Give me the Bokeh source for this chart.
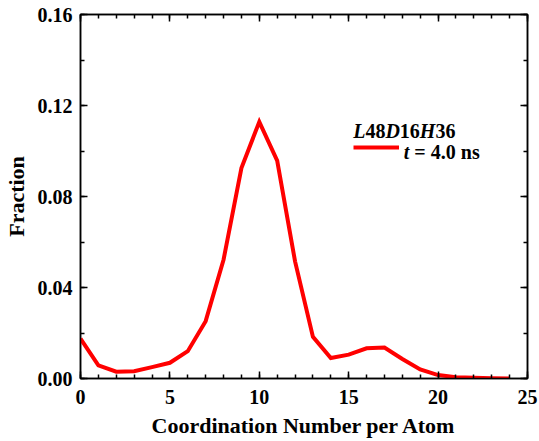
from bokeh.plotting import figure
from bokeh.models import (Range1d, LinearAxis, SingleIntervalTicker, PrintfTickFormatter,
                          Label, Legend, LegendItem, CustomLabelingPolicy)
from bokeh.embed import file_html
from bokeh.resources import INLINE

# ---- data ----
coord_number = list(range(0, 25))
fraction = [0.0175, 0.0058, 0.0030, 0.0032, 0.0050, 0.0069, 0.0120, 0.0252, 0.0522,
            0.0925, 0.1128, 0.0958, 0.0515, 0.0183, 0.0090, 0.0105, 0.0133, 0.0136,
            0.0086, 0.0040, 0.0015, 0.0006, 0.0003, 0.0001, 0.0000]
x_ticks = [0, 5, 10, 15, 20, 25]
y_ticks = [0.00, 0.04, 0.08, 0.12, 0.16]
series_label = "t = 4.0 ns"
legend_title_parts = [("L", "bold italic"), ("48", "bold"), ("D", "bold italic"),
                      ("16", "bold"), ("H", "bold italic"), ("36", "bold")]

FONT = "Liberation Serif"

p = figure(width=539, height=441, output_backend="svg", toolbar_location=None,
           x_range=Range1d(x_ticks[0], x_ticks[-1]), y_range=Range1d(y_ticks[0], y_ticks[-1]),
           min_border_left=80, min_border_right=12, min_border_top=14, min_border_bottom=63,
           x_axis_location=None, y_axis_location=None)
p.xgrid.visible = False
p.ygrid.visible = False
p.outline_line_color = "black"
p.outline_line_width = 1.5
p.background_fill_color = "white"
p.border_fill_color = "white"

hide_all = CustomLabelingPolicy(code="""
    const ids = Array.from(indices)
    for (const i of ids) indices.unset(i)
    return indices
""")


def style_axis(ax, show_labels):
    ax.axis_line_color = "black"
    ax.axis_line_width = 1.5
    ax.major_tick_line_width = 1.5
    ax.minor_tick_line_width = 1.5
    ax.major_tick_in = 7
    ax.major_tick_out = 0
    ax.minor_tick_in = 4
    ax.minor_tick_out = 0
    ax.major_label_text_font = FONT
    ax.major_label_text_font_style = "bold"
    ax.major_label_text_color = "black"
    ax.major_label_text_font_size = "20px"
    ax.major_label_text_line_height = 1.0
    ax.axis_label_text_font = FONT
    ax.axis_label_text_font_style = "bold"
    ax.axis_label_text_font_size = "22px"
    ax.axis_label_text_line_height = 1.0
    ax.axis_label_text_color = "black"
    if not show_labels:
        ax.major_label_policy = hide_all
        ax.major_label_text_font_size = "0px"
        ax.major_label_standoff = 0
        ax.axis_label_standoff = 0


xb = LinearAxis(ticker=SingleIntervalTicker(interval=5, num_minor_ticks=5),
                axis_label="Coordination Number per Atom")
style_axis(xb, True)
xb.major_label_standoff = 11
xb.axis_label_standoff = 6
p.add_layout(xb, "below")

xa = LinearAxis(ticker=SingleIntervalTicker(interval=5, num_minor_ticks=5))
style_axis(xa, False)
p.add_layout(xa, "above")

yl = LinearAxis(ticker=SingleIntervalTicker(interval=0.04, num_minor_ticks=2),
                axis_label="Fraction", formatter=PrintfTickFormatter(format="%.2f"))
style_axis(yl, True)
yl.major_label_standoff = 8
yl.axis_label_standoff = 6
p.add_layout(yl, "left")

yr = LinearAxis(ticker=SingleIntervalTicker(interval=0.04, num_minor_ticks=2))
style_axis(yr, False)
p.add_layout(yr, "right")

r = p.line(coord_number, fraction, line_color="#ff0000", line_width=4, line_join="miter")

legend = Legend(items=[LegendItem(label=" ", renderers=[r])], location=(273, 221),
                glyph_width=46, glyph_height=20, label_height=20, label_width=1,
                label_text_font_size="20px", label_text_alpha=0, padding=0, margin=0, spacing=0,
                background_fill_alpha=0, border_line_alpha=0, label_standoff=0)
p.add_layout(legend, "center")

# legend title pieces (mixed italic/bold)
em = {"L": 0.611, "D": 0.722, "H": 0.778}
off = 0.0
for txt, style in legend_title_parts:
    p.add_layout(Label(x=15.25, y=0.1090, x_offset=off, text=txt, text_font=FONT,
                       text_font_style=style, text_font_size="20px", text_color="black",
                       text_baseline="alphabetic"))
    off += sum(em.get(c, 0.5) for c in txt) * 20

# series label: italic t, then bold rest
p.add_layout(Label(x=18.08, y=0.0995, text=series_label[0], text_font=FONT,
                   text_font_style="bold italic", text_font_size="20px", text_color="black",
                   text_baseline="alphabetic"))
p.add_layout(Label(x=18.08, y=0.0995, x_offset=10.6, text=series_label[1:].strip(), text_font=FONT,
                   text_font_style="bold", text_font_size="20px", text_color="black",
                   text_baseline="alphabetic"))

open("out.html", "w").write(file_html(p, INLINE))
